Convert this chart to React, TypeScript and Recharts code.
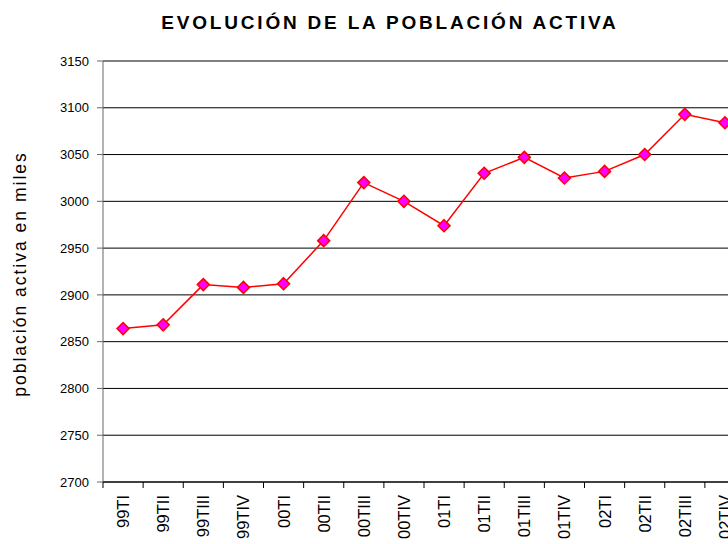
import React from "react"
import { LineChart, Line, XAxis, YAxis, CartesianGrid } from "recharts"

const quarters = [
  "99TI", "99TII", "99TIII", "99TIV",
  "00TI", "00TII", "00TIII", "00TIV",
  "01TI", "01TII", "01TIII", "01TIV",
  "02TI", "02TII", "02TIII", "02TIV",
]
const activePopulation = [
  2864, 2868, 2911, 2908,
  2912, 2958, 3020, 3000,
  2974, 3030, 3047, 3025,
  3032, 3050, 3093, 3084,
]
const yTicks = [2700, 2750, 2800, 2850, 2900, 2950, 3000, 3050, 3100, 3150]

const data = quarters.map((q, i) => ({ q, value: activePopulation[i] }))

const FONT = "'Liberation Sans', Arial, sans-serif"
const BAND = (745 - 103) / 16

const Diamond = (props: any) => {
  const { cx, cy } = props
  if (cx == null || cy == null) return null
  const r = 6
  return (
    <polygon
      points={`${cx},${cy - r} ${cx + r},${cy} ${cx},${cy + r} ${cx - r},${cy}`}
      fill="#FF00FF"
      stroke="#FF0000"
      strokeWidth={1.5}
    />
  )
}

const QuarterTick = (props: any) => {
  const { x, y, payload } = props
  const bx = x - BAND / 2
  return (
    <g>
      <line x1={bx} y1={y} x2={bx} y2={y + 6} stroke="#000" />
      <text
        x={x}
        y={y + 13}
        transform={`rotate(-90, ${x}, ${y + 13})`}
        textAnchor="end"
        dominantBaseline="central"
        fontSize={16.5}
        fontFamily={FONT}
        fill="#000"
      >
        {payload.value}
      </text>
    </g>
  )
}

export default function App() {
  return (
    <div style={{ position: "absolute", left: 0, top: 0, width: 728, height: 544, overflow: "hidden", background: "#fff" }}>
      <div
        style={{
          position: "absolute", left: 0, width: 780, top: 12, textAlign: "center",
          fontFamily: FONT, fontWeight: "bold", fontSize: 19, letterSpacing: 2.8,
        }}
      >
        EVOLUCIÓN DE LA POBLACIÓN ACTIVA
      </div>
      <div
        style={{
          position: "absolute", left: 20, top: 274, width: 300, marginLeft: -150, marginTop: -12,
          height: 24, lineHeight: "24px", textAlign: "center", transform: "rotate(-90deg)",
          fontFamily: FONT, fontSize: 17.5, letterSpacing: 2,
        }}
      >
        población activa en miles
      </div>
      <LineChart
        width={745}
        height={570}
        data={data}
        margin={{ top: 61, right: 0, bottom: 0, left: 0 }}
      >
        <CartesianGrid vertical={false} stroke="#000" />
        <XAxis
          dataKey="q"
          scale="band"
          interval={0}
          height={88}
          tickSize={0}
          tickMargin={0}
          tickLine={false}
          axisLine={{ stroke: "#000" }}
          tick={<QuarterTick />}
        />
        <YAxis
          domain={[2700, 3150]}
          ticks={yTicks}
          width={103}
          tickSize={6}
          tickMargin={8}
          axisLine={{ stroke: "#666" }}
          tickLine={{ stroke: "#666" }}
          tick={{ fontSize: 13, fontFamily: FONT, fill: "#000" }}
        />
        <Line
          dataKey="value"
          stroke="#FF0000"
          strokeWidth={1.5}
          dot={<Diamond />}
          activeDot={false}
          isAnimationActive={false}
        />
      </LineChart>
    </div>
  )
}
